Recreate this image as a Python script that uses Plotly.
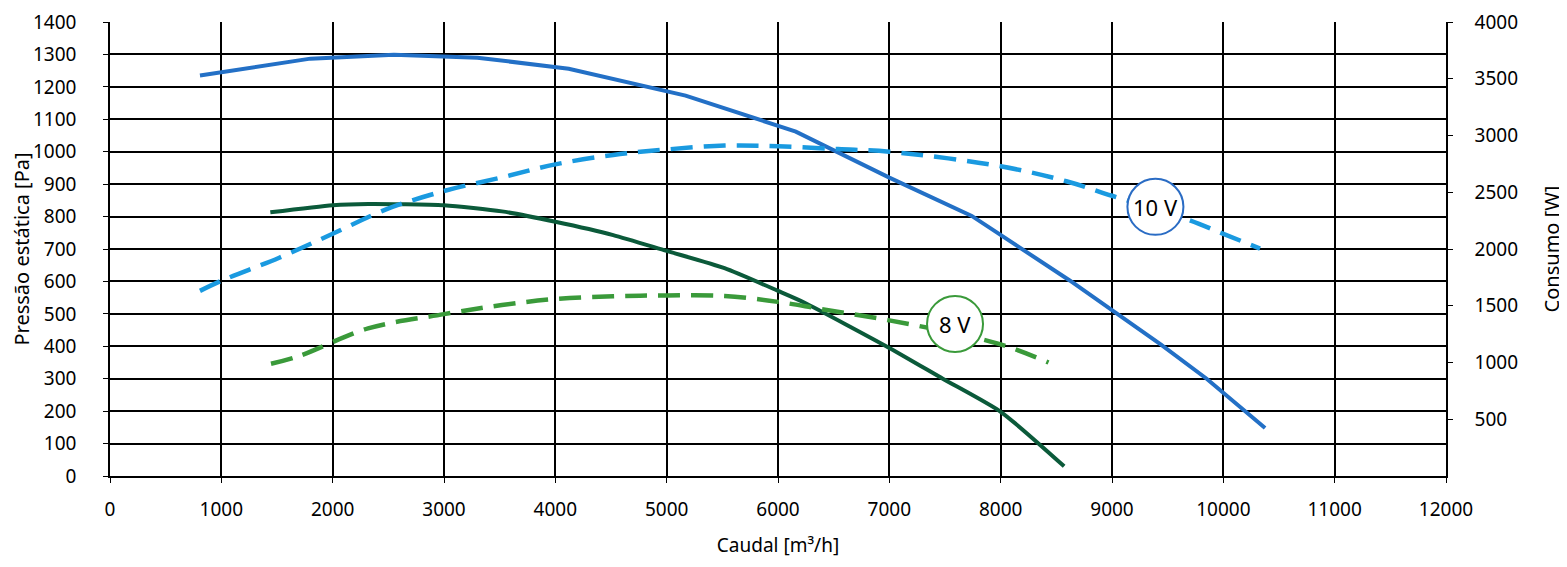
import plotly.graph_objects as go

# 10 V - pressure (left axis)
flow_p10 = [808, 1800, 2550, 3300, 4120, 5170, 6160, 7000, 7740, 8620, 9440, 9850, 10375]
pres_10 = [1235, 1287, 1299, 1290, 1256, 1173, 1062, 920, 802, 603, 405, 300, 148]

# 10 V - power (right axis)
flow_w10 = [808, 1000, 1520, 2000, 2480, 3000, 3520, 4000, 4520, 5000, 5520, 6000,
            6540, 7000, 8000, 8590, 9000, 9660, 10000, 10330]
power_10 = [1631, 1720, 1923, 2134, 2349, 2511, 2631, 2746, 2829, 2877, 2911, 2906,
            2880, 2857, 2729, 2597, 2469, 2266, 2134, 2003]

# 8 V - pressure (left axis)
flow_p8 = [1440, 2000, 2320, 3000, 3520, 4000, 4520, 5000, 5520, 6000, 6230, 7000, 7480, 8000, 8570]
pres_8 = [813, 835, 839, 835, 816, 784, 743, 694, 641, 571, 536, 395, 300, 198, 30]

# 8 V - power (right axis)
flow_w8 = [1446, 1707, 2318, 3000, 3520, 4000, 4520, 5000, 5520, 6000, 6385, 7000, 7960, 8430]
power_8 = [989, 1060, 1300, 1426, 1506, 1560, 1583, 1591, 1586, 1534, 1471, 1371, 1171, 1000]

power_ticks = [500, 1000, 1500, 2000, 2500, 3000, 3500, 4000]

# curve labels: (text, x, left-axis y, colour)
labels = [("10 V", 9390, 830, "#2a6cc4"), ("8 V", 7590, 469, "#3a9a3a")]

FONT = "Noto Sans"
blue = "#2370c6"
light_blue = "#1a9ae0"
dark_green = "#0b5a3a"
green = "#3a9a3a"

fig = go.Figure()

fig.add_trace(go.Scatter(x=flow_w10, y=power_10, yaxis="y2", mode="lines",
                         line=dict(color=light_blue, width=4.5, dash="22px,11px", shape="spline")))
fig.add_trace(go.Scatter(x=flow_w8, y=power_8, yaxis="y2", mode="lines",
                         line=dict(color=green, width=4.5, dash="22px,11px", shape="spline")))
fig.add_trace(go.Scatter(x=flow_p10, y=pres_10, mode="lines",
                         line=dict(color=blue, width=4)))
fig.add_trace(go.Scatter(x=flow_p8, y=pres_8, mode="lines",
                         line=dict(color=dark_green, width=4, shape="spline", smoothing=0.6)))

for txt, lx, ly, col in labels:
    fig.add_shape(type="circle", xref="x", yref="y", xsizemode="pixel", ysizemode="pixel",
                  xanchor=lx, yanchor=ly, x0=-28, x1=28, y0=-28, y1=28,
                  fillcolor="white", line=dict(color=col, width=2))
    fig.add_annotation(x=lx, y=ly, text=txt, showarrow=False,
                       font=dict(family=FONT, size=22, color="black"))

axis_style = dict(showline=True, linecolor="black", linewidth=1.6, ticks="outside", ticklen=5,
                  tickcolor="black", zeroline=False, automargin=False,
                  ticklabeloverflow="allow")

# page body has an 8px margin, so margins are shifted by that amount
fig.update_layout(
    width=1567, height=567,
    margin=dict(l=102, r=129, t=14, b=99),
    plot_bgcolor="white", paper_bgcolor="white",
    showlegend=False,
    font=dict(family=FONT, size=19, color="black"),
    xaxis=dict(range=[0, 12000], dtick=1000, tickformat="d", showgrid=True, gridcolor="black",
               gridwidth=1.6, ticklabelstandoff=10,
               title=dict(text="Caudal [m³/h]", font=dict(size=19), standoff=18),
               **axis_style),
    yaxis=dict(range=[0, 1400], dtick=100, showgrid=True, gridcolor="black", gridwidth=1.6,
               ticklabelstandoff=23,
               title=dict(text="Pressão estática [Pa]", font=dict(size=20), standoff=2),
               **axis_style),
    yaxis2=dict(range=[0, 4000], overlaying="y", side="right", tickvals=power_ticks,
                showgrid=False, ticklabelstandoff=18,
                title=dict(text="Consumo [W]", font=dict(size=20), standoff=28),
                **axis_style),
)

fig.write_html("out.html")
